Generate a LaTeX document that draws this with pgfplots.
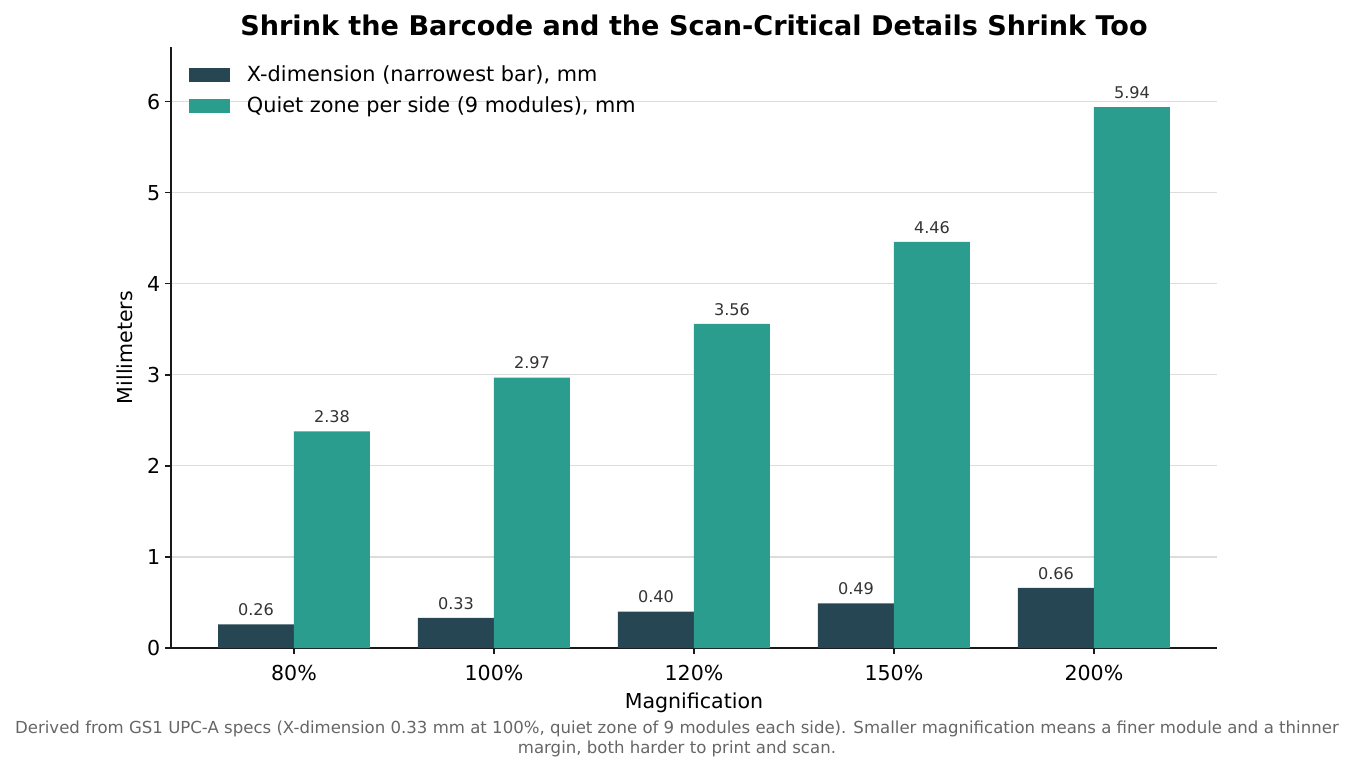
\documentclass[border=0pt]{standalone}
\usepackage{fontspec}
\setmainfont{DejaVu Sans}
\usepackage{pgfplots}
\pgfplotsset{compat=1.18}

\definecolor{darkbar}{HTML}{264653}
\definecolor{tealbar}{HTML}{2A9D8F}
\definecolor{gridgray}{HTML}{DDDDDD}
\definecolor{labelgray}{HTML}{333333}
\definecolor{notegray}{HTML}{666666}

\begin{document}
\begin{tikzpicture}
% page = 1354 x 771 px, 1 px = 0.72 pt
\useasboundingbox (0,0) rectangle (974.88pt,555.12pt);
\begin{axis}[
    at={(123.12pt,88.56pt)}, anchor=south west,
    scale only axis,
    width=753.1pt, height=432.7pt,
    ybar, bar width=0.38,
    xmin=-0.615, xmax=4.615,
    ymin=0, ymax=6.6,
    axis x line*=bottom, axis y line*=left,
    axis line style={line width=1pt, black!90},
    xtick={0,1,2,3,4},
    xticklabels={80\%,100\%,120\%,150\%,200\%},
    ytick={0,1,2,3,4,5,6},
    tick align=outside, major tick length=4.3pt,
    tick style={line width=1pt, black!90},
    xtick pos=bottom, ytick pos=left,
    ymajorgrids, grid style={gridgray, line width=0.8pt},
    /pgf/number format/assume math mode=true,
    ticklabel style={font=\fontsize{14.8}{17}\selectfont},
    xticklabel style={yshift=-4.3pt},
    title={\textbf{Shrink the Barcode and the Scan-Critical Details Shrink Too}},
    title style={font=\fontsize{19.5}{23}\selectfont, at={(0.5,1)}, anchor=base, yshift=2.2pt},
    xlabel={Magnification},
    xlabel style={font=\fontsize{14.8}{17}\selectfont, at={(axis description cs:0.5,0)}, anchor=base, yshift=-43.2pt},
    ylabel={Millimeters},
    ylabel style={font=\fontsize{14.8}{17}\selectfont, at={(axis description cs:0,0.5)}, anchor=center, yshift=33pt},
    nodes near coords,
    nodes near coords style={font=\fontsize{11.6}{13}\selectfont, color=labelgray, yshift=2.5pt,
        /pgf/number format/fixed, /pgf/number format/precision=2,
        /pgf/number format/fixed zerofill, /pgf/number format/assume math mode=true},
    legend cell align=left,
    legend style={draw=none, fill=none, at={(0.0,1)}, anchor=north west,
        xshift=10pt, yshift=-9.5pt, font=\fontsize{15}{17}\selectfont,
        row sep=5.5pt},
    legend image code/.code={\fill[#1] (0pt,-5pt) rectangle (29.5pt,5pt);},
    legend style={nodes={inner xsep=12pt}},
]
\addplot[fill=darkbar, draw=none, bar shift=-0.19] coordinates {
    (0,0.26) (1,0.33) (2,0.40) (3,0.49) (4,0.66)
};
\addlegendentry{X-dimension (narrowest bar), mm}
\addplot[fill=tealbar, draw=none, bar shift=0.19] coordinates {
    (0,2.38) (1,2.97) (2,3.56) (3,4.46) (4,5.94)
};
\addlegendentry{Quiet zone per side (9 modules), mm}
\end{axis}
\node[font=\fontsize{11.93}{14.4}\selectfont, color=notegray, align=center, anchor=base]
    at (487.4pt,12.6pt) {Derived from GS1 UPC-A specs (X-dimension 0.33 mm at 100\%, quiet zone of 9 modules each side). Smaller magnification means a finer module and a thinner\\margin, both harder to print and scan.};
\end{tikzpicture}
\end{document}
